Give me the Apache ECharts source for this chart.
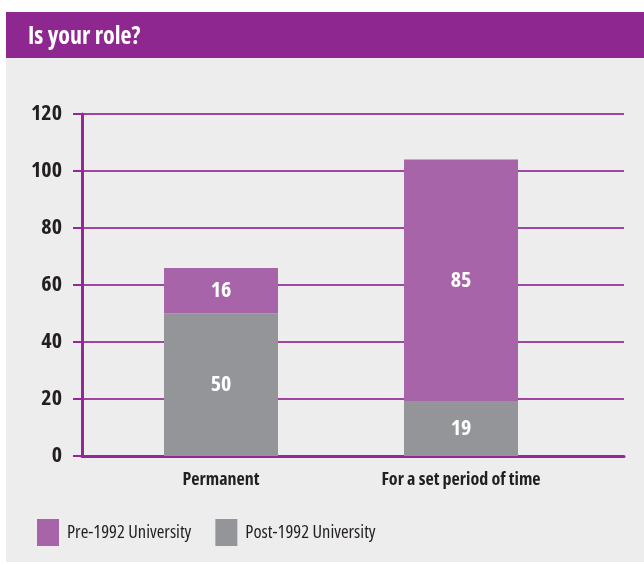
<!DOCTYPE html>
<html>
<head>
<meta charset="utf-8">
<script src="https://cdn.jsdelivr.net/npm/echarts@6/dist/echarts.min.js"></script>
<style>
  html, body { margin: 0; padding: 0; background: #ffffff; }
  #chart { width: 644px; height: 565px; }
</style>
</head>
<body>
<div id="chart"></div>
<script>
// Chart data
const categories = ['Permanent', 'For a set period of time'];
const seriesNames = ['Pre-1992 University', 'Post-1992 University'];
const preValues = [16, 85];
const postValues = [50, 19];
const yTicks = [0, 20, 40, 60, 80, 100, 120];

const purple = '#a764a8';
const grey = '#939598';
const lineColor = '#932896';
const gridColor = '#a045a2';
const font = '"Open Sans", sans-serif';
// canvas font shorthand accepts a stretch keyword after the weight
const boldNarrow = 'bold condensed';
const narrow = 'normal condensed';

const chart = echarts.init(document.getElementById('chart'));

const barLabel = {
    show: true,
    position: 'inside',
    color: '#ffffff',
    fontFamily: font,
    fontWeight: boldNarrow,
    fontSize: 22
};

chart.setOption({
    backgroundColor: '#ffffff',
    animation: false,
    graphic: [
        // grey panel
        { type: 'rect', left: 6, top: 58, shape: { width: 638, height: 504 }, style: { fill: '#ededed' }, z: -10 },
        // purple header
        { type: 'rect', left: 6, top: 12, shape: { width: 638, height: 46 }, style: { fill: '#8e278f' }, z: -10 },
        {
            type: 'text', left: 28, top: 25,
            style: { text: 'Is your role?', fill: '#ffffff', font: 'bold condensed 24px ' + font }
        }
    ],
    legend: {
        left: 37,
        top: 519,
        padding: 0,
        itemWidth: 22,
        itemHeight: 27,
        itemGap: 24,
        icon: 'rect',
        data: seriesNames,
        textStyle: {
            color: '#231f20',
            fontFamily: font,
            fontWeight: narrow,
            fontSize: 18.5,
            padding: [0, 0, 0, 3]
        }
    },
    grid: [
        // full-width grid for axis lines and gridlines
        { left: 82, right: 20, top: 114, bottom: 109 },
        // inner grid for the bars
        { left: 101, right: 63, top: 114, bottom: 109 }
    ],
    xAxis: [
        {
            type: 'category',
            gridIndex: 0,
            data: [''],
            axisLine: { show: true, lineStyle: { color: lineColor, width: 3 } },
            axisTick: { show: false },
            axisLabel: { show: false }
        },
        {
            type: 'category',
            gridIndex: 1,
            data: categories,
            axisLine: { show: false },
            axisTick: { show: false },
            axisLabel: {
                color: '#231f20',
                fontFamily: font,
                fontWeight: boldNarrow,
                fontSize: 18,
                margin: 15
            }
        }
    ],
    yAxis: [
        {
            type: 'value',
            gridIndex: 0,
            min: yTicks[0],
            max: yTicks[yTicks.length - 1],
            interval: 20,
            axisLine: { show: true, lineStyle: { color: lineColor, width: 3 } },
            axisTick: { show: true, length: 9, lineStyle: { color: lineColor, width: 2 } },
            splitLine: { show: true, lineStyle: { color: gridColor, width: 2 } },
            axisLabel: {
                color: '#231f20',
                fontFamily: font,
                fontWeight: boldNarrow,
                fontSize: 22,
                margin: 20
            }
        },
        {
            type: 'value',
            gridIndex: 1,
            min: yTicks[0],
            max: yTicks[yTicks.length - 1],
            show: false
        }
    ],
    series: [
        {
            name: seriesNames[1],
            type: 'bar',
            stack: 'total',
            xAxisIndex: 1,
            yAxisIndex: 1,
            barWidth: 114,
            itemStyle: { color: grey },
            label: barLabel,
            data: postValues
        },
        {
            name: seriesNames[0],
            type: 'bar',
            stack: 'total',
            xAxisIndex: 1,
            yAxisIndex: 1,
            barWidth: 114,
            itemStyle: { color: purple },
            label: barLabel,
            data: preValues
        }
    ]
});
</script>
</body>
</html>
